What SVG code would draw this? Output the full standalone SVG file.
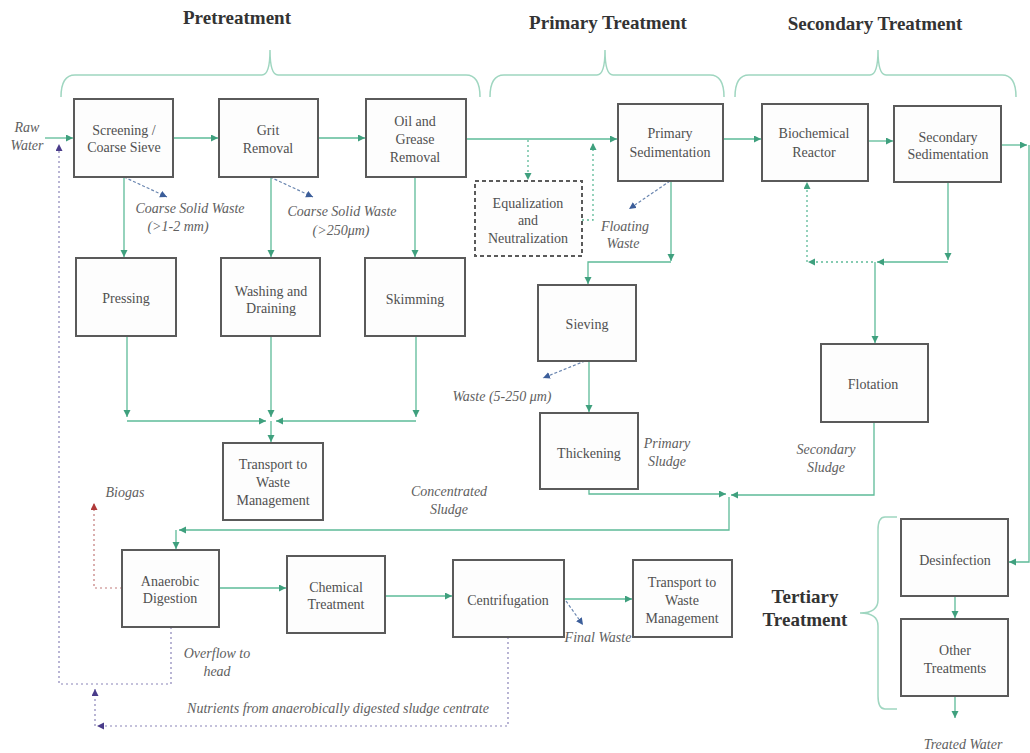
<svg xmlns="http://www.w3.org/2000/svg" width="1030" height="753" viewBox="0 0 1030 753">
<defs>
<style>
.box{fill:#fdfdfd;stroke:#5a5a5a;stroke-width:2}
.dbox{fill:#fdfdfd;stroke:#5a5a5a;stroke-width:2;stroke-dasharray:4 3}
.t{font-family:"Liberation Serif","Times New Roman",serif;font-size:14px;fill:#505050;text-anchor:middle}
.l{font-family:"Liberation Serif","Times New Roman",serif;font-size:14px;font-style:italic;fill:#606060;text-anchor:middle}
.h{font-family:"Liberation Serif","Times New Roman",serif;font-size:19px;font-weight:bold;fill:#333;text-anchor:middle}
.c{fill:none;stroke:#5dbb98;stroke-width:1.3;marker-end:url(#ag)}
.cd{fill:none;stroke:#5dbb98;stroke-width:1.3;stroke-dasharray:2 3;marker-end:url(#ag)}
.w{fill:none;stroke:#6a86b0;stroke-width:1.2;stroke-dasharray:3 2;marker-end:url(#ab)}
.p{fill:none;stroke:#8a84b8;stroke-width:1.2;stroke-dasharray:2 3;marker-end:url(#ap)}
.r{fill:none;stroke:#c27a7a;stroke-width:1.2;stroke-dasharray:2 3;marker-end:url(#ar)}
.br{fill:none;stroke:#9fd6c0;stroke-width:1.5}
</style>
<marker id="ag" markerUnits="userSpaceOnUse" markerWidth="9" markerHeight="9" refX="7" refY="3.5" orient="auto"><path d="M0,0 L7,3.5 L0,7 z" fill="#3fa07e"/></marker>
<marker id="ab" markerUnits="userSpaceOnUse" markerWidth="9" markerHeight="9" refX="7" refY="3.5" orient="auto"><path d="M0,0 L7,3.5 L0,7 z" fill="#3c5e9a"/></marker>
<marker id="ap" markerUnits="userSpaceOnUse" markerWidth="9" markerHeight="9" refX="7" refY="3.5" orient="auto"><path d="M0,0 L7,3.5 L0,7 z" fill="#4a3c8a"/></marker>
<marker id="ar" markerUnits="userSpaceOnUse" markerWidth="9" markerHeight="9" refX="7" refY="3.5" orient="auto"><path d="M0,0 L7,3.5 L0,7 z" fill="#b03a3a"/></marker>
</defs>
<rect width="1030" height="753" fill="#ffffff"/>

<g id="headers">
<text class="h" x="237" y="24">Pretreatment</text>
<text class="h" x="608" y="29">Primary Treatment</text>
<text class="h" x="875" y="30">Secondary Treatment</text>
<text class="h" x="805" y="603">Tertiary</text>
<text class="h" x="805" y="626">Treatment</text>
<path class="br" d="M61,97 Q61,75 75,75 L262,75 Q270,75 270,50 Q270,75 278,75 L466,75 Q480,75 480,97"/>
<path class="br" d="M490,97 Q490,75 504,75 L597,75 Q605,75 605,50 Q605,75 613,75 L710,75 Q724,75 724,97"/>
<path class="br" d="M735,97 Q735,75 749,75 L870,75 Q878,75 878,50 Q878,75 886,75 L1002,75 Q1016,75 1016,97"/>
<path class="br" d="M897,517 L885,517 Q878,517 878,530 L878,600 Q878,613 860,613 Q878,613 878,626 L878,696 Q878,709 885,709 L897,709"/>
</g>

<g id="connectors">
<path class="c" d="M45,138 L73,138"/>
<path class="c" d="M173,138 L218,138"/>
<path class="c" d="M318,138 L365,138"/>
<path class="c" d="M466,139 L617,139"/>
<path class="c" d="M124,177 L124,257"/>
<path class="c" d="M271,177 L271,257"/>
<path class="c" d="M415,177 L415,257"/>
<path class="c" d="M127,336 L127,417"/>
<path class="c" d="M271,336 L271,417"/>
<path class="c" d="M416,336 L416,417"/>
<path class="c" d="M127,421 L266,421"/>
<path class="c" d="M416,421 L276,421"/>
<path class="c" d="M271,421 L271,442"/>
<path class="cd" d="M528,140 L528,180"/>
<path class="cd" d="M582,220 L593,220 L593,143"/>
<path class="c" d="M723,139 L761,139"/>
<path class="c" d="M868,141 L893,141"/>
<path class="c" d="M1001,145 L1027,145"/>
<path class="c" d="M1029,145 L1029,562 L1009,562"/>
<path class="c" d="M671,181 L671,261"/>
<path class="c" d="M671,262 L588,262 L588,284"/>
<path class="c" d="M589,361 L589,412"/>
<path class="c" d="M948,182 L948,260"/>
<path class="c" d="M948,262 L877,262"/>
<path class="cd" d="M873,262 L808,262"/>
<path class="cd" d="M807,262 L807,182"/>
<path class="c" d="M875,262 L875,343"/>
<path class="c" d="M874,422 L874,495 L731,495"/>
<path class="c" d="M589,489 L589,494 L726,494"/>
<path class="c" d="M729,497 L729,530 L179,530"/>
<path class="c" d="M176,530 L176,549"/>
<path class="c" d="M219,588 L286,588"/>
<path class="c" d="M385,596 L452,596"/>
<path class="c" d="M564,599 L632,599"/>
<path class="c" d="M955,596 L955,618"/>
<path class="c" d="M955,696 L955,718"/>
<path class="w" d="M124,177 L167,197"/>
<path class="w" d="M270,177 L313,197"/>
<path class="w" d="M670,181 L629,209"/>
<path class="w" d="M585,361 L543,378"/>
<path class="w" d="M566,601 L583,625"/>
<path class="p" d="M171,627 L171,684 L59,684 L59,144"/>
<path class="p" d="M508,637 L508,726 L97,726"/>
<path class="p" d="M95,726 L95,689"/>
<path class="r" d="M122,588 L94,588 L94,503"/>
</g>

<g id="labels">
<text class="l" x="27" y="132">Raw</text>
<text class="l" x="27" y="150">Water</text>
<text class="l" x="190" y="213">Coarse Solid Waste</text>
<text class="l" x="178" y="231">(&gt;1-2 mm)</text>
<text class="l" x="342" y="216">Coarse Solid Waste</text>
<text class="l" x="341" y="235">(&gt;250μm)</text>
<text class="l" x="625" y="231">Floating</text>
<text class="l" x="623" y="248">Waste</text>
<text class="l" x="502" y="401">Waste (5-250 μm)</text>
<text class="l" x="667" y="448">Primary</text>
<text class="l" x="667" y="466">Sludge</text>
<text class="l" x="826" y="454">Secondary</text>
<text class="l" x="826" y="472">Sludge</text>
<text class="l" x="449" y="496">Concentrated</text>
<text class="l" x="449" y="514">Sludge</text>
<text class="l" x="125" y="497">Biogas</text>
<text class="l" x="217" y="658">Overflow to</text>
<text class="l" x="217" y="676">head</text>
<text class="l" x="598" y="642">Final Waste</text>
<text class="l" x="338" y="713">Nutrients from anaerobically digested sludge centrate</text>
<text class="l" x="963" y="749">Treated Water</text>
</g>

<g id="screening"><rect class="box" x="74" y="99" width="99" height="78"/><text class="t" x="124" y="135">Screening /</text><text class="t" x="124" y="152">Coarse Sieve</text></g>
<g id="grit"><rect class="box" x="219" y="99" width="99" height="78"/><text class="t" x="268" y="135">Grit</text><text class="t" x="268" y="153">Removal</text></g>
<g id="oil"><rect class="box" x="366" y="99" width="100" height="78"/><text class="t" x="415" y="126">Oil and</text><text class="t" x="415" y="144">Grease</text><text class="t" x="415" y="162">Removal</text></g>
<g id="primary-sed"><rect class="box" x="618" y="104" width="105" height="77"/><text class="t" x="670" y="138">Primary</text><text class="t" x="670" y="157">Sedimentation</text></g>
<g id="biochemical"><rect class="box" x="762" y="104" width="106" height="77"/><text class="t" x="814" y="138">Biochemical</text><text class="t" x="814" y="157">Reactor</text></g>
<g id="secondary-sed"><rect class="box" x="894" y="106" width="107" height="76"/><text class="t" x="948" y="142">Secondary</text><text class="t" x="948" y="159">Sedimentation</text></g>
<g id="equalization"><rect class="dbox" x="475" y="181" width="107" height="75"/><text class="t" x="528" y="208">Equalization</text><text class="t" x="528" y="225">and</text><text class="t" x="528" y="243">Neutralization</text></g>
<g id="pressing"><rect class="box" x="76" y="258" width="100" height="78"/><text class="t" x="126" y="303">Pressing</text></g>
<g id="washing"><rect class="box" x="221" y="258" width="99" height="78"/><text class="t" x="271" y="296">Washing and</text><text class="t" x="271" y="313">Draining</text></g>
<g id="skimming"><rect class="box" x="365" y="258" width="100" height="78"/><text class="t" x="415" y="304">Skimming</text></g>
<g id="sieving"><rect class="box" x="538" y="285" width="98" height="76"/><text class="t" x="587" y="329">Sieving</text></g>
<g id="thickening"><rect class="box" x="540" y="413" width="98" height="76"/><text class="t" x="589" y="458">Thickening</text></g>
<g id="flotation"><rect class="box" x="821" y="344" width="107" height="78"/><text class="t" x="873" y="389">Flotation</text></g>
<g id="transport1"><rect class="box" x="223" y="443" width="100" height="77"/><text class="t" x="273" y="469">Transport to</text><text class="t" x="273" y="487">Waste</text><text class="t" x="273" y="505">Management</text></g>
<g id="anaerobic"><rect class="box" x="122" y="550" width="97" height="77"/><text class="t" x="170" y="586">Anaerobic</text><text class="t" x="170" y="603">Digestion</text></g>
<g id="chemical"><rect class="box" x="287" y="556" width="98" height="77"/><text class="t" x="336" y="592">Chemical</text><text class="t" x="336" y="609">Treatment</text></g>
<g id="centrifugation"><rect class="box" x="453" y="560" width="111" height="77"/><text class="t" x="508" y="605">Centrifugation</text></g>
<g id="transport2"><rect class="box" x="633" y="560" width="99" height="77"/><text class="t" x="682" y="587">Transport to</text><text class="t" x="682" y="605">Waste</text><text class="t" x="682" y="623">Management</text></g>
<g id="desinfection"><rect class="box" x="901" y="519" width="107" height="77"/><text class="t" x="955" y="565">Desinfection</text></g>
<g id="other"><rect class="box" x="901" y="619" width="107" height="77"/><text class="t" x="955" y="655">Other</text><text class="t" x="955" y="673">Treatments</text></g>
</svg>
